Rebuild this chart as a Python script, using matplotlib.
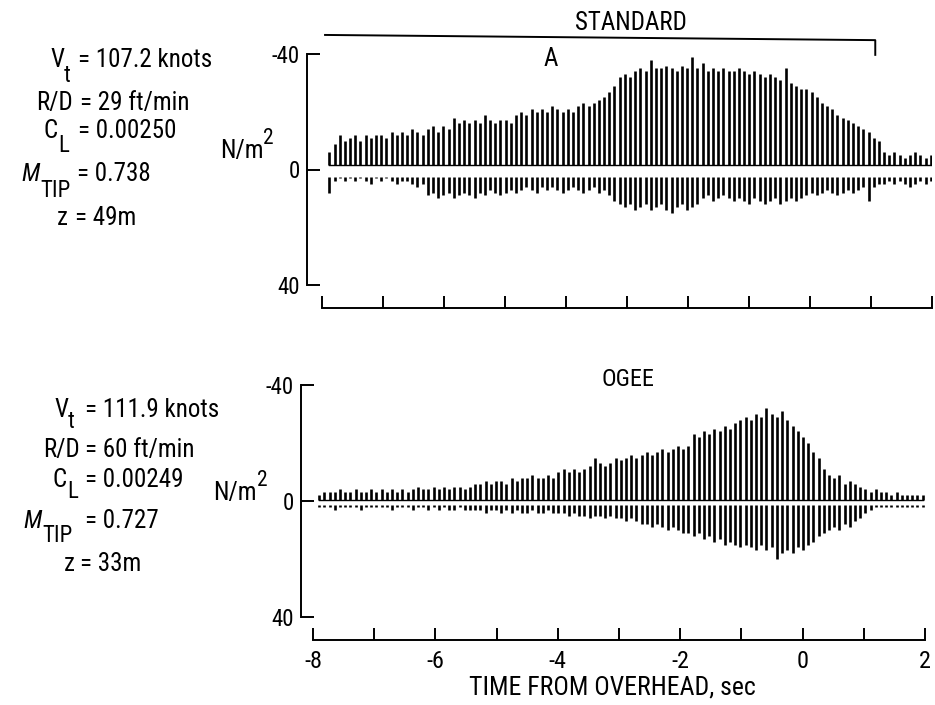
import numpy as np
import matplotlib
matplotlib.use('Agg')
import matplotlib.pyplot as plt
from matplotlib import font_manager

# narrow sans to get near the old NASA lettering
names = {f.name for f in font_manager.fontManager.ttflist}
FONT = 'DejaVu Sans'
for cand in ['Liberation Sans Narrow', 'DejaVu Sans Condensed', 'Roboto Condensed', 'Liberation Sans']:
    if cand in names:
        FONT = cand
        break

plt.rcParams['font.family'] = [FONT, 'DejaVu Sans']
plt.rcParams['mathtext.fontset'] = 'custom'
plt.rcParams['mathtext.rm'] = FONT
plt.rcParams['mathtext.it'] = FONT + ':italic'
plt.rcParams['axes.unicode_minus'] = False

# ---- data: blade-slap pulse peaks (N/m^2) ----
PERIOD = 0.085          # s between blade passages
T0_STD = -7.88
T0_OGEE = -7.90

# standard tip, negative (upper) peaks, one per pulse
std_up = [6, 9, 12, 10, 11, 12, 10, 12, 11, 12,
          12, 11, 13, 12, 13, 12, 14, 13, 12,
          14, 15, 13, 15, 14, 18,
          16, 17, 16, 17, 16, 19, 17, 16, 17, 17, 16,
          19, 20, 19, 21, 20, 21, 20, 22, 21, 20, 21, 20,
          22, 23, 22, 23, 24,
          25, 27, 29,
          32, 33, 32, 34,
          35, 34, 38, 35,
          35, 36, 35, 34, 36, 35, 39, 35, 37,
          34, 35, 34, 35, 34, 34, 35,
          34, 33, 34, 33, 32, 33, 32, 31,
          35,
          30, 29, 28, 28, 27,
          25, 23, 22, 21,
          19, 18, 17, 16, 15,
          14, 13, 11, 10,
          6, 5, 6, 5, 4, 5, 6, 5, 4, 5]
# standard tip, positive (lower) peaks
std_lo = [8, 4, 3, 4, 3, 4, 3, 4, 5, 3, 4, 3, 4, 5, 4, 4, 5, 6, 5,
          9, 8, 10, 9, 8, 10, 9, 8, 9, 10, 8, 9, 7, 8, 9, 8, 7, 8,
          7, 6, 7, 8, 6, 7, 6, 7, 8, 7, 6, 7, 8, 7, 6, 8, 7, 9,
          11, 12, 13, 12, 14, 13, 12, 14, 13, 12, 14, 15, 13, 12, 14, 13, 12,
          10, 9, 11, 10, 9, 10, 11, 10,
          11, 12, 10, 11, 12, 11, 10, 12, 11, 10, 11, 10,
          9, 8, 9, 8, 7, 8, 9, 8, 7, 8, 7, 6,
          11,
          6, 5, 5, 4, 5, 4, 5, 6, 5, 4, 5, 4]

# ogee tip
ogee_up = [2, 3, 3, 3, 4, 3, 3, 4, 3, 3, 4,
           3, 4, 3, 4, 3, 4, 3, 4, 5, 4,
           4, 5, 4, 5, 4, 5, 5, 4, 5,
           6, 6, 7, 6, 7, 7, 6,
           8, 7, 8, 8, 9, 8, 8, 9, 8,
           10, 11, 10, 11, 10, 11, 12, 15,
           13, 12, 13, 15, 14,
           15, 16, 15, 16, 17, 16, 17, 18, 17, 18, 19, 18, 19,
           23, 22, 24, 23, 25, 24, 26, 25,
           27, 28, 29, 28, 30, 29, 32,
           30, 29, 31, 28,
           26, 24, 22, 20, 17, 15,
           11, 9,
           8, 9, 6, 7, 6, 5,
           4, 3, 4, 3, 3, 2, 3, 2, 2, 2, 2, 2]
ogee_lo = [2, 2, 2, 3, 2, 2, 2, 2, 3, 2, 2, 2, 2, 2, 3, 2, 2, 2, 3, 2,
           2, 3, 2, 3, 2, 3, 3, 2, 3, 3,
           3, 3, 4, 3, 3, 4, 3, 4, 3, 4, 4, 3, 4, 4, 3, 4, 4, 4, 5, 4,
           5, 5, 6, 5, 5, 6, 5, 6, 6, 7, 6,
           7, 8, 8, 9, 8, 9, 10, 9, 10, 11,
           11, 12, 11, 13, 12, 14, 13, 15, 14, 15, 16, 15,
           16, 17, 15, 17, 16, 20, 18, 17, 18,
           16, 17, 15, 14, 12,
           11, 10, 9, 10, 8, 9, 7,
           6, 4, 3, 2, 2, 2, 2, 2, 2, 2, 2, 2, 2]

# (symbol, subscript, value text)
std_info = [('V', 't', '= 107.2 knots'),
            ('R/D', '', '= 29 ft/min'),
            ('C', 'L', '= 0.00250'),
            ('M', 'TIP', '= 0.738'),
            ('z', '', '= 49m')]
ogee_info = [('V', 't', '= 111.9 knots'),
             ('R/D', '', '= 60 ft/min'),
             ('C', 'L', '= 0.00249'),
             ('M', 'TIP', '= 0.727'),
             ('z', '', '= 33m')]

W, H = 935, 705
fig = plt.figure(figsize=(W / 100, H / 100), dpi=100)


def ftext(x, y, s, **kw):
    fig.text(x / W, 1 - y / H, s, **kw)


def draw_panel(ax, t0, up, lo, up_base, lo_base, left_off, show_labels):
    t = t0 + PERIOD * np.arange(len(up))
    up = np.array(up, dtype=float)
    lo = np.array(lo, dtype=float)
    ax.vlines(t, -up_base, -up, color='k', lw=1.9)
    ax.vlines(t, lo_base, lo, color='k', lw=1.9)
    ax.plot(t, np.full(len(t), -up_base), color='k', lw=1.0)

    ax.set_xlim(-8, 2)
    ax.set_ylim(40, -40)
    for s in ['top', 'right']:
        ax.spines[s].set_visible(False)
    ax.spines['left'].set_position(('outward', left_off))
    ax.spines['left'].set_bounds(40, -40)
    ax.spines['bottom'].set_position(('outward', 16.5))
    ax.spines['bottom'].set_bounds(-8, 2)
    for s in ['left', 'bottom']:
        ax.spines[s].set_linewidth(1.4)

    ax.set_yticks([-40, 0, 40])
    ax.set_yticklabels(['-40', '0', '40'])
    ax.set_xticks(range(-8, 3))
    if show_labels:
        ax.set_xticklabels([str(v) if v % 2 == 0 else '' for v in range(-8, 3)])
    else:
        ax.set_xticklabels([])
    ax.tick_params(axis='y', direction='in', length=9.5, width=1.4, pad=5, labelsize=16.5)
    ax.tick_params(axis='x', direction='in', length=9, width=1.4, pad=7, labelsize=17.5)
    ax.patch.set_visible(False)


ax1 = fig.add_axes([322 / W, (H - 285) / H, 610 / W, 231 / H])
draw_panel(ax1, T0_STD, std_up, std_lo, 1.5, 2.5, 10.8, False)
ax2 = fig.add_axes([313 / W, (H - 617) / H, 612 / W, 232 / H])
draw_panel(ax2, T0_OGEE, ogee_up, ogee_lo, 0.3, 1.5, 8.6, True)

# STANDARD bracket and headings
ax1.plot([-7.95, 1.07, 1.07], [-46.6, -44.8, -39.7], color='k', lw=1.4, clip_on=False)
ftext(631, 23, 'STANDARD', ha='center', va='center', fontsize=18)
ftext(551, 59, 'A', ha='center', va='center', fontsize=18)
ftext(628, 379, 'OGEE', ha='center', va='center', fontsize=17.5)

# flight condition blocks: (x where subscript starts / symbol ends, x of '=', baseline, sub drop)
std_pos = [(64, 78, 67, 15), (73, 80, 110, 0), (58, 78, 138, 14), (40, 77, 181, 16), (68, 75, 225, 0)]
ogee_pos = [(68, 85, 417, 11), (80, 85, 457, 0), (67, 85, 487, 11), (42, 85, 528, 14), (75, 80, 571, 0)]
for info, pos in [(std_info, std_pos), (ogee_info, ogee_pos)]:
    for (sym, sub, rhs), (xs, xe, yb, drop) in zip(info, pos):
        style = 'italic' if sym == 'M' else 'normal'
        ftext(xs, yb, sym, ha='right', va='baseline', fontsize=18, style=style)
        if sub:
            ftext(xs, yb + drop, sub, ha='left', va='baseline', fontsize=16.5)
        ftext(xe, yb, rhs, ha='left', va='baseline', fontsize=18)

ftext(220, 158, 'N/m', ha='left', va='baseline', fontsize=18)
ftext(263, 144, '2', ha='left', va='baseline', fontsize=15.5)
ftext(213, 500, 'N/m', ha='left', va='baseline', fontsize=18)
ftext(257, 486, '2', ha='left', va='baseline', fontsize=15.5)

ftext(612, 688, 'TIME FROM OVERHEAD, sec', ha='center', va='center', fontsize=18.5)

fig.savefig('out.png', dpi=100)
